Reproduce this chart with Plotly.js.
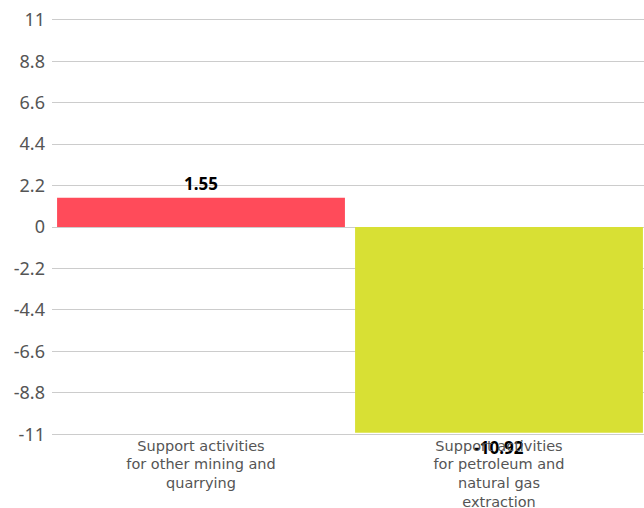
<!DOCTYPE html>
<html>
<head>
<meta charset="utf-8">
<script src="https://cdn.plot.ly/plotly-3.0.1.min.js"></script>
<style>html,body{margin:0;padding:0;background:#fff;overflow:hidden;}#wrap{width:644px;height:508px;overflow:hidden;}#chart{width:648px;height:508px;}</style>
</head>
<body>
<div id="wrap"><div id="chart"></div></div>
<script>
var categories = ["Support activities<br>for other mining and<br>quarrying", "Support activities<br>for petroleum and<br>natural gas<br>extraction"];
var values = [1.55, -10.92];
var valueLabels = ["1.55", "-10.92"];
var barColors = ["#FF4B5A", "#D8E034"];
var tickValues = [11, 8.8, 6.6, 4.4, 2.2, 0, -2.2, -4.4, -6.6, -8.8, -11];
var tickLabels = ["11", "8.8", "6.6", "4.4", "2.2", "0", "-2.2", "-4.4", "-6.6", "-8.8", "-11"];

var trace = {
  type: "bar",
  x: categories,
  y: values,
  marker: {color: barColors},
  text: valueLabels,
  texttemplate: "<b>%{text}</b>",
  textposition: "outside",
  cliponaxis: false,
  textfont: {family: "Noto Sans, sans-serif", size: 17, color: "#000"},
  hoverinfo: "none"
};

var layout = {
  width: 648, height: 508,
  margin: {l: 52, r: 0, t: 16, b: 70},
  paper_bgcolor: "#fff", plot_bgcolor: "#fff",
  showlegend: false,
  bargap: 0.034,
  font: {family: "Noto Sans, sans-serif", color: "#555"},
  xaxis: {
    type: "category",
    showgrid: false,
    showline: false,
    zeroline: false,
    ticks: "",
    ticklabelstandoff: -3,
    tickfont: {family: "DejaVu Sans, sans-serif", size: 14.5, color: "#555"},
    automargin: false
  },
  yaxis: {
    range: [-11.2, 11.2],
    tickmode: "array",
    tickvals: tickValues,
    ticktext: tickLabels,
    showgrid: true,
    gridcolor: "#cccccc",
    gridwidth: 1,
    zeroline: true,
    zerolinecolor: "#cccccc",
    zerolinewidth: 1,
    showline: false,
    ticks: "",
    ticklen: 0,
    ticklabelstandoff: 6,
    tickfont: {size: 18, color: "#555"},
    automargin: false
  }
};

Plotly.newPlot("chart", [trace], layout, {displayModeBar: false, staticPlot: true});
</script>
</body>
</html>
